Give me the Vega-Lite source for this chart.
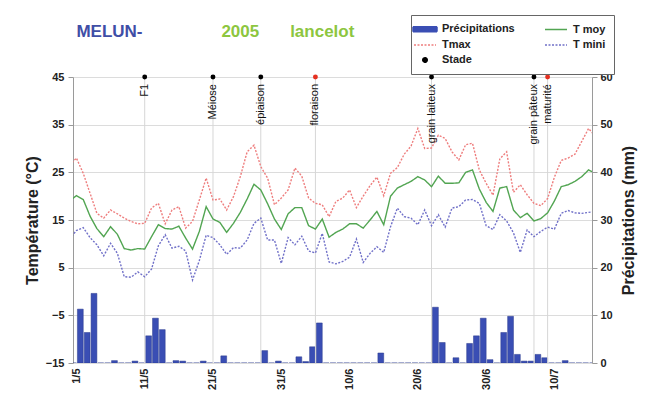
{
  "$schema": "https://vega.github.io/schema/vega-lite/v6.json",
  "autosize": "none",
  "width": 519,
  "height": 286,
  "padding": {"left": 73, "top": 77, "right": 54, "bottom": 40},
  "background": "white",
  "config": {"font": "Liberation Sans", "view": {"stroke": null}},
  "datasets": {
    "meteo": [
      {"date":"2005-04-30","Tmax":26.5,"T moy":19,"T mini":11,"precip":0},
      {"date":"2005-05-01","Tmax":28,"T moy":20.1,"T mini":12.8,"precip":11.3},
      {"date":"2005-05-02","Tmax":24.8,"T moy":19.3,"T mini":13.4,"precip":6.4},
      {"date":"2005-05-03","Tmax":20.6,"T moy":15.8,"T mini":11.3,"precip":14.6},
      {"date":"2005-05-04","Tmax":16.4,"T moy":13.2,"T mini":9.8,"precip":0},
      {"date":"2005-05-05","Tmax":15.4,"T moy":11.5,"T mini":7.5,"precip":0},
      {"date":"2005-05-06","Tmax":17.1,"T moy":13.6,"T mini":10.1,"precip":0.5},
      {"date":"2005-05-07","Tmax":16.3,"T moy":12,"T mini":8,"precip":0},
      {"date":"2005-05-08","Tmax":15.4,"T moy":9,"T mini":3.1,"precip":0},
      {"date":"2005-05-09","Tmax":14.7,"T moy":8.7,"T mini":3,"precip":0.4},
      {"date":"2005-05-10","Tmax":14.2,"T moy":9,"T mini":4.1,"precip":0},
      {"date":"2005-05-11","Tmax":14.3,"T moy":8.9,"T mini":3.1,"precip":5.7},
      {"date":"2005-05-12","Tmax":17.5,"T moy":11.5,"T mini":4.7,"precip":9.4},
      {"date":"2005-05-13","Tmax":18.5,"T moy":14,"T mini":9.6,"precip":7},
      {"date":"2005-05-14","Tmax":14.2,"T moy":13.2,"T mini":11.9,"precip":0},
      {"date":"2005-05-15","Tmax":17.1,"T moy":13.1,"T mini":9.1,"precip":0.5},
      {"date":"2005-05-16","Tmax":17.8,"T moy":13.7,"T mini":9.5,"precip":0.4},
      {"date":"2005-05-17","Tmax":13.3,"T moy":11.2,"T mini":8.5,"precip":0},
      {"date":"2005-05-18","Tmax":14.7,"T moy":8.9,"T mini":2.4,"precip":0},
      {"date":"2005-05-19","Tmax":19.2,"T moy":12.6,"T mini":6.5,"precip":0.4},
      {"date":"2005-05-20","Tmax":23.8,"T moy":17.8,"T mini":11.8,"precip":0},
      {"date":"2005-05-21","Tmax":19.2,"T moy":15.2,"T mini":11.3,"precip":0},
      {"date":"2005-05-22","Tmax":19.4,"T moy":14.5,"T mini":9.8,"precip":1.5},
      {"date":"2005-05-23","Tmax":17.1,"T moy":12.4,"T mini":7.8,"precip":0},
      {"date":"2005-05-24","Tmax":19.9,"T moy":14.3,"T mini":9.2,"precip":0},
      {"date":"2005-05-25","Tmax":24.1,"T moy":16.6,"T mini":9.1,"precip":0},
      {"date":"2005-05-26","Tmax":29.3,"T moy":19.4,"T mini":10.8,"precip":0},
      {"date":"2005-05-27","Tmax":30.7,"T moy":22.5,"T mini":14.3,"precip":0},
      {"date":"2005-05-28","Tmax":26.2,"T moy":21.3,"T mini":15.4,"precip":2.6},
      {"date":"2005-05-29","Tmax":23.8,"T moy":18.4,"T mini":10.8,"precip":0},
      {"date":"2005-05-30","Tmax":18.2,"T moy":15.2,"T mini":10.8,"precip":0.4},
      {"date":"2005-05-31","Tmax":19.6,"T moy":13,"T mini":5.9,"precip":0},
      {"date":"2005-06-01","Tmax":21.3,"T moy":16.3,"T mini":11.3,"precip":0},
      {"date":"2005-06-02","Tmax":25.9,"T moy":17.6,"T mini":9.8,"precip":1.3},
      {"date":"2005-06-03","Tmax":24.2,"T moy":17.6,"T mini":11.6,"precip":0.3},
      {"date":"2005-06-04","Tmax":19.6,"T moy":13.8,"T mini":8.5,"precip":3.4},
      {"date":"2005-06-05","Tmax":18.5,"T moy":13.1,"T mini":8.1,"precip":8.4},
      {"date":"2005-06-06","Tmax":18.2,"T moy":15.2,"T mini":12.2,"precip":0},
      {"date":"2005-06-07","Tmax":15.7,"T moy":11.4,"T mini":6.2,"precip":0},
      {"date":"2005-06-08","Tmax":18.9,"T moy":12.4,"T mini":5.8,"precip":0},
      {"date":"2005-06-09","Tmax":19.6,"T moy":13.1,"T mini":6.3,"precip":0},
      {"date":"2005-06-10","Tmax":21.3,"T moy":14.2,"T mini":7.2,"precip":0},
      {"date":"2005-06-11","Tmax":17.6,"T moy":14.2,"T mini":11,"precip":0},
      {"date":"2005-06-12","Tmax":20,"T moy":13.3,"T mini":6.1,"precip":0},
      {"date":"2005-06-13","Tmax":22.2,"T moy":15,"T mini":8,"precip":0},
      {"date":"2005-06-14","Tmax":24,"T moy":16.8,"T mini":9.4,"precip":2.1},
      {"date":"2005-06-15","Tmax":20.1,"T moy":14,"T mini":8.2,"precip":0},
      {"date":"2005-06-16","Tmax":24.8,"T moy":20,"T mini":13.6,"precip":0},
      {"date":"2005-06-17","Tmax":26,"T moy":21.7,"T mini":17.5,"precip":0},
      {"date":"2005-06-18","Tmax":28.8,"T moy":22.4,"T mini":15.7,"precip":0},
      {"date":"2005-06-19","Tmax":30.5,"T moy":23.1,"T mini":15.4,"precip":0},
      {"date":"2005-06-20","Tmax":34.2,"T moy":24.1,"T mini":14,"precip":0},
      {"date":"2005-06-21","Tmax":30,"T moy":23.4,"T mini":17.1,"precip":0},
      {"date":"2005-06-22","Tmax":30.1,"T moy":22,"T mini":13.8,"precip":11.7},
      {"date":"2005-06-23","Tmax":32.8,"T moy":24.2,"T mini":16.1,"precip":4.3},
      {"date":"2005-06-24","Tmax":32.1,"T moy":22.7,"T mini":13.5,"precip":0},
      {"date":"2005-06-25","Tmax":29.3,"T moy":22.7,"T mini":17.5,"precip":1.1},
      {"date":"2005-06-26","Tmax":27.6,"T moy":22.8,"T mini":17.8,"precip":0},
      {"date":"2005-06-27","Tmax":30.8,"T moy":25,"T mini":19.2,"precip":4.1},
      {"date":"2005-06-28","Tmax":31.1,"T moy":25.5,"T mini":19.3,"precip":5.7},
      {"date":"2005-06-29","Tmax":25.5,"T moy":21.5,"T mini":18.5,"precip":9.4},
      {"date":"2005-06-30","Tmax":22.7,"T moy":18.7,"T mini":13.8,"precip":0.7},
      {"date":"2005-07-01","Tmax":20.2,"T moy":16.8,"T mini":13,"precip":0},
      {"date":"2005-07-02","Tmax":27.8,"T moy":21.7,"T mini":16.1,"precip":6.4},
      {"date":"2005-07-03","Tmax":29.3,"T moy":22,"T mini":14.8,"precip":9.8},
      {"date":"2005-07-04","Tmax":20.8,"T moy":17.1,"T mini":12.3,"precip":1.8},
      {"date":"2005-07-05","Tmax":22.4,"T moy":15.5,"T mini":8.2,"precip":0.4},
      {"date":"2005-07-06","Tmax":20.3,"T moy":16.4,"T mini":12.9,"precip":0.4},
      {"date":"2005-07-07","Tmax":18.5,"T moy":14.8,"T mini":11.5,"precip":1.8},
      {"date":"2005-07-08","Tmax":18,"T moy":15.3,"T mini":12.6,"precip":1.1},
      {"date":"2005-07-09","Tmax":19.5,"T moy":16.5,"T mini":13.5,"precip":0},
      {"date":"2005-07-10","Tmax":24,"T moy":19,"T mini":13.1,"precip":0},
      {"date":"2005-07-11","Tmax":27.5,"T moy":22,"T mini":16.4,"precip":0.5},
      {"date":"2005-07-12","Tmax":28,"T moy":22.4,"T mini":17,"precip":0},
      {"date":"2005-07-13","Tmax":28.8,"T moy":23.1,"T mini":16.5,"precip":0},
      {"date":"2005-07-14","Tmax":31.5,"T moy":24.1,"T mini":16.4,"precip":0},
      {"date":"2005-07-15","Tmax":34.2,"T moy":25.5,"T mini":16.6,"precip":0},
      {"date":"2005-07-16","Tmax":32.5,"T moy":24.8,"T mini":16.8,"precip":0}
    ],
    "stades": [
      {"date":"2005-05-11","stade":"F1","repere":false},
      {"date":"2005-05-21","stade":"Méiose","repere":false},
      {"date":"2005-05-28","stade":"épiaison","repere":false},
      {"date":"2005-06-05","stade":"floraison","repere":true},
      {"date":"2005-06-22","stade":"grain laiteux","repere":false},
      {"date":"2005-07-07","stade":"grain pâteux","repere":false},
      {"date":"2005-07-09","stade":"maturité","repere":true}
    ]
  },
  "encoding": {
    "x": {
      "field": "date", "type": "temporal",
      "scale": {"type": "utc", "domain": [{"year": 2005, "month": 4, "date": 30, "hours": 12, "utc": true}, {"year": 2005, "month": 7, "date": 15, "hours": 12, "utc": true}]},
      "axis": {
        "values": [
          {"year": 2005, "month": 5, "date": 1, "utc": true},
          {"year": 2005, "month": 5, "date": 11, "utc": true},
          {"year": 2005, "month": 5, "date": 21, "utc": true},
          {"year": 2005, "month": 5, "date": 31, "utc": true},
          {"year": 2005, "month": 6, "date": 10, "utc": true},
          {"year": 2005, "month": 6, "date": 20, "utc": true},
          {"year": 2005, "month": 6, "date": 30, "utc": true},
          {"year": 2005, "month": 7, "date": 10, "utc": true}
        ],
        "labelExpr": "utcFormat(datum.value, '%-d/%-m')",
        "labelAngle": 270, "labelAlign": "right", "labelBaseline": "middle",
        "labelFontWeight": "bold", "labelFontSize": 11, "labelColor": "#222",
        "labelPadding": 5, "ticks": false, "domain": false, "grid": false, "title": null
      }
    }
  },
  "layer": [
    {
      "data": {"name": "meteo"},
      "mark": {"type": "bar", "color": "#3a4eb4", "stroke": "#2a3a8c", "strokeWidth": 0.5, "timeUnitBandSize": 0.8, "clip": true},
      "encoding": {
        "x": {
          "field": "date", "type": "temporal", "timeUnit": "utcyearmonthdate",
          "scale": {"type": "utc", "domain": [{"year": 2005, "month": 4, "date": 30, "hours": 12, "utc": true}, {"year": 2005, "month": 7, "date": 15, "hours": 12, "utc": true}]},
          "axis": {
            "values": [
              {"year": 2005, "month": 5, "date": 1, "utc": true},
              {"year": 2005, "month": 5, "date": 11, "utc": true},
              {"year": 2005, "month": 5, "date": 21, "utc": true},
              {"year": 2005, "month": 5, "date": 31, "utc": true},
              {"year": 2005, "month": 6, "date": 10, "utc": true},
              {"year": 2005, "month": 6, "date": 20, "utc": true},
              {"year": 2005, "month": 6, "date": 30, "utc": true},
              {"year": 2005, "month": 7, "date": 10, "utc": true}
            ],
            "labelExpr": "utcFormat(datum.value, '%-d/%-m')",
            "labelAngle": 270, "labelAlign": "right", "labelBaseline": "middle",
            "labelFontWeight": "bold", "labelFontSize": 11, "labelColor": "#222",
            "labelPadding": 5, "ticks": false, "domain": false, "grid": false, "title": null
          }
        },
        "y": {
          "field": "precip", "type": "quantitative",
          "scale": {"domain": [0, 60]},
          "axis": {
            "orient": "right", "values": [0, 10, 20, 30, 40, 50, 60],
            "title": "Précipitations (mm)", "titleAngle": 270, "titleBaseline": "top", "titleFontSize": 16, "titleFontWeight": "bold", "titleColor": "#222",
            "titlePadding": 8,
            "labelFontWeight": "bold", "labelFontSize": 11, "labelColor": "#222",
            "grid": false, "domainColor": "#9a9a9a", "tickColor": "#9a9a9a", "tickSize": 5, "labelPadding": 3
          }
        }
      }
    },
    {
      "layer": [
        {
          "data": {"name": "stades"},
          "mark": {"type": "rule", "color": "#d6d6d6", "strokeWidth": 1},
          "encoding": {
            "y": {"datum": -15, "type": "quantitative", "scale": {"domain": [-15, 45]}},
            "y2": {"datum": 45}
          }
        },
        {
          "data": {"name": "meteo"},
          "transform": [{"fold": ["Tmax", "T moy", "T mini"], "as": ["serie", "temp"]}],
          "mark": {"type": "line", "strokeWidth": 1.4, "clip": true},
          "encoding": {
            "y": {
              "field": "temp", "type": "quantitative",
              "scale": {"domain": [-15, 45]},
              "axis": {
                "values": [-15, -5, 5, 15, 25, 35, 45],
                "title": "Température (°C)", "titleFontSize": 16, "titleFontWeight": "bold", "titleColor": "#222",
                "titlePadding": 5,
                "labelFontWeight": "bold", "labelFontSize": 11, "labelColor": "#222",
                "grid": true, "gridColor": "#dcdcdc", "domainColor": "#9a9a9a", "tickColor": "#9a9a9a", "tickSize": 5, "labelPadding": 4
              }
            },
            "color": {
              "field": "serie", "type": "nominal",
              "scale": {"domain": ["Précipitations", "T moy", "Tmax", "T mini", "Stade"], "range": ["#3a4eb4", "#52a552", "#ee7d7d", "#7070c8", "#000000"]},
              "legend": {
                "orient": "none", "legendX": 338, "legendY": -62, "direction": "horizontal", "columns": 2,
                "title": null, "labelFontSize": 11, "labelFontWeight": "bold", "labelColor": "#222",
                "symbolSize": 100, "labelOffset": 11, "columnPadding": 27, "rowPadding": 4,
                "strokeColor": "#666", "fillColor": "white", "padding": 8,
                "encode": {
                  "symbols": {
                    "update": {
                      "shape": {"signal": "datum.value === 'Précipitations' ? 'M-2.4,-0.5H2.4V0.5H-2.4Z' : datum.value === 'Stade' ? 'M-0.45,0A0.45,0.45 0 1,0 0.45,0A0.45,0.45 0 1,0 -0.45,0Z' : 'M-2.2,0H2.2'"},
                      "fill": {"signal": "datum.value === 'Précipitations' ? '#3a4eb4' : datum.value === 'Stade' ? '#000000' : 'transparent'"},
                      "stroke": {"signal": "datum.value === 'T moy' ? '#52a552' : datum.value === 'Tmax' ? '#ee7d7d' : datum.value === 'T mini' ? '#7070c8' : 'transparent'"},
                      "strokeDash": {"signal": "datum.value === 'Tmax' || datum.value === 'T mini' ? [2, 1.5] : [1, 0]"},
                      "strokeWidth": {"value": 1.5},
                      "opacity": {"value": 1}
                    }
                  }
                }
              }
            },
            "strokeDash": {
              "field": "serie", "type": "nominal",
              "scale": {"domain": ["T moy", "Tmax", "T mini"], "range": [[1, 0], [2, 1.5], [2, 1.5]]},
              "legend": null
            }
          }
        },
        {
          "data": {"name": "stades"},
          "mark": {"type": "point", "filled": true, "size": 24, "opacity": 1},
          "encoding": {
            "y": {"datum": 45, "type": "quantitative"},
            "color": {"condition": {"test": "datum.repere", "value": "#e53020"}, "value": "#000000"}
          }
        },
        {
          "data": {"name": "stades"},
          "mark": {"type": "text", "angle": 270, "align": "right", "baseline": "middle", "dx": -7, "fontSize": 11, "color": "#111"},
          "encoding": {
            "y": {"datum": 45, "type": "quantitative"},
            "text": {"field": "stade"}
          }
        },
        {
          "data": {"values": [{"entete": "MELUN-", "date": "2005-05-01"}]},
          "mark": {"type": "text", "align": "left", "baseline": "middle", "fontSize": 17, "fontWeight": "bold", "color": "#3f4ea6"},
          "encoding": {
            "y": {"datum": 54.4, "type": "quantitative"},
            "text": {"field": "entete"}
          }
        },
        {
          "data": {"values": [{"entete": "2005", "date": "2005-05-25"}]},
          "mark": {"type": "text", "align": "center", "baseline": "middle", "fontSize": 17, "fontWeight": "bold", "color": "#8dc63f"},
          "encoding": {
            "y": {"datum": 54.4, "type": "quantitative"},
            "text": {"field": "entete"}
          }
        },
        {
          "data": {"values": [{"entete": "lancelot", "date": "2005-06-06"}]},
          "mark": {"type": "text", "align": "center", "baseline": "middle", "fontSize": 17, "fontWeight": "bold", "color": "#8dc63f"},
          "encoding": {
            "y": {"datum": 54.4, "type": "quantitative"},
            "text": {"field": "entete"}
          }
        }
      ]
    }
  ],
  "resolve": {"scale": {"y": "independent"}}
}
